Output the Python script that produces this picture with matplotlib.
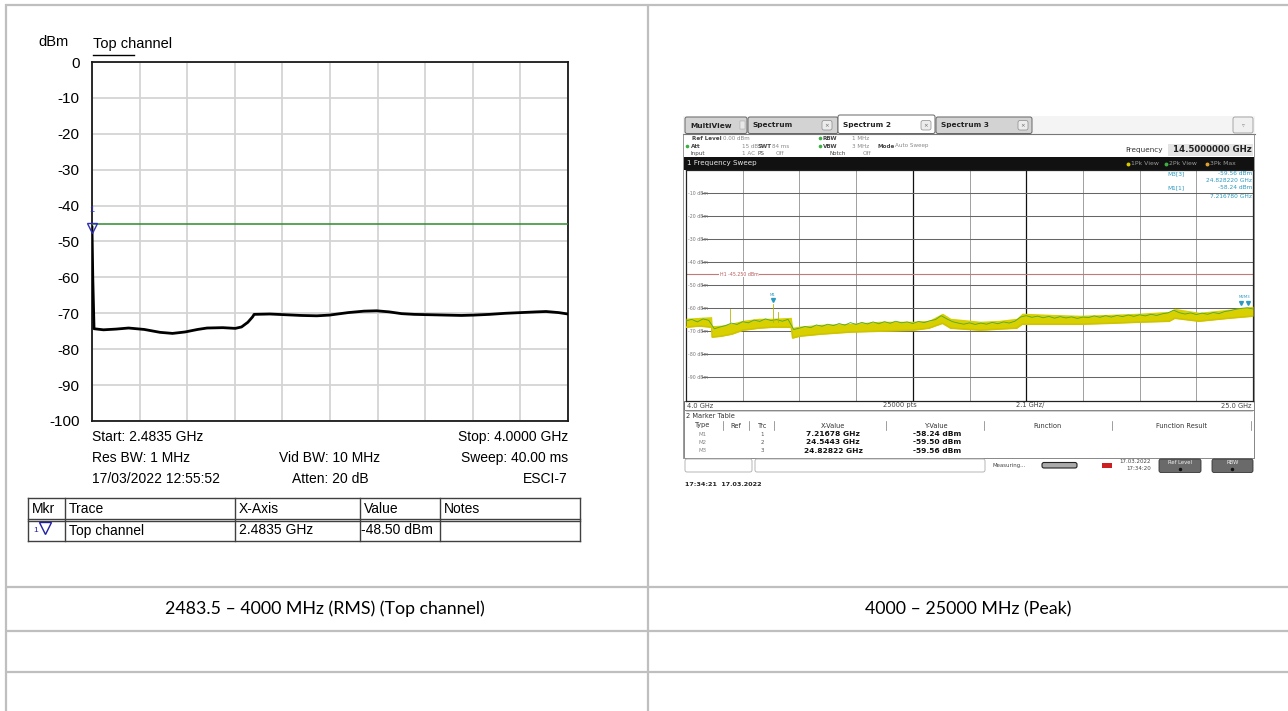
import numpy as np
import matplotlib
matplotlib.use("Agg")
import matplotlib.pyplot as plt
from matplotlib.patches import Rectangle, FancyBboxPatch

# ---------------- data ----------------
left_yticks = [0, -10, -20, -30, -40, -50, -60, -70, -80, -90, -100]
left_trace_ghz = [2.4835, 2.4860, 2.4900, 2.52, 2.56, 2.60, 2.65, 2.70, 2.74, 2.78, 2.82,
                  2.85, 2.90, 2.94, 2.96, 2.98, 2.995, 3.00, 3.05, 3.10, 3.15, 3.20, 3.24,
                  3.30, 3.35, 3.39, 3.43, 3.47, 3.51, 3.56, 3.61, 3.66, 3.70, 3.75, 3.80,
                  3.85, 3.90, 3.93, 3.97, 4.00]
left_trace_dbm = [-46.0, -60.0, -74.3, -74.6, -74.4, -74.1, -74.5, -75.3, -75.6, -75.2, -74.5,
                  -74.1, -74.0, -74.2, -73.8, -72.5, -71.0, -70.3, -70.2, -70.4, -70.6, -70.7, -70.5,
                  -69.8, -69.4, -69.3, -69.6, -70.1, -70.3, -70.4, -70.5, -70.6, -70.5, -70.3, -70.0,
                  -69.8, -69.6, -69.5, -69.8, -70.2]
left_display_line = -45.0
left_marker = (2.4835, -48.5)
left_info = [("Start: 2.4835 GHz", "", "Stop: 4.0000 GHz"),
             ("Res BW: 1 MHz", "Vid BW: 10 MHz", "Sweep: 40.00 ms"),
             ("17/03/2022 12:55:52", "Atten: 20 dB", "ESCI-7")]
mkr_header = ["Mkr", "Trace", "X-Axis", "Value", "Notes"]
mkr_row = ["1", "Top channel", "2.4835 GHz", "-48.50 dBm", ""]
captions = ["2483.5 \u2013 4000 MHz (RMS) (Top channel)", "4000 \u2013 25000 MHz (Peak)"]

# right screenshot (R&S spectrum 4 - 25 GHz)
spec_ghz = np.linspace(4.0, 25.0, 101)
spec_green = [-65.5, -64.8, -65.9, -64.6, -65.2, -68.9, -68.1, -67.5, -66.4, -67.0,
              -65.8, -66.3, -65.1, -65.7, -64.6, -65.3, -64.9, -65.6, -64.8, -69.2,
              -68.6, -67.9, -68.4, -67.2, -67.8, -66.9, -67.5, -66.6, -67.3, -66.2,
              -67.0, -66.1, -66.8, -65.9, -66.7, -65.8, -66.5, -65.6, -66.3, -65.9,
              -66.6, -65.7, -66.2, -65.4, -64.9, -63.2, -64.6, -65.8, -66.4, -66.9,
              -66.3, -67.0, -66.4, -66.9, -66.1, -66.7, -65.9, -66.4, -65.6, -63.8,
              -63.2, -63.9, -63.4, -64.1, -63.5, -64.3, -63.6, -64.2, -63.7, -64.4,
              -63.8, -64.0, -63.3, -63.9, -63.2, -63.8, -63.1, -63.6, -62.9, -63.5,
              -62.8, -63.3, -62.6, -63.1, -62.4, -62.0, -60.8, -61.9, -62.5, -62.0,
              -62.7, -62.1, -62.6, -61.8, -62.3, -61.4, -61.0, -60.4, -60.0, -59.8, -60.3]
band_ghz = [4.0, 4.5, 4.95, 4.97, 5.3, 5.7, 6.1, 6.7, 7.2, 7.9, 7.95, 8.2, 9.0, 10.1, 11.2,
            12.4, 13.0, 13.5, 13.8, 14.9, 15.6, 16.25, 16.45, 17.5, 18.6, 19.7, 20.8, 21.9,
            22.1, 23.0, 24.1, 25.0]
band_hi = [-64.3, -63.9, -63.6, -67.5, -67.3, -66.4, -65.2, -64.3, -64.3, -63.9, -68.2, -67.7,
           -66.9, -66.5, -65.6, -65.6, -65.2, -62.1, -64.3, -65.6, -65.2, -64.3, -62.1, -62.6,
           -63.0, -62.6, -62.1, -61.3, -60.0, -61.7, -60.4, -59.1]
band_lo = [-68.2, -67.7, -68.2, -72.5, -72.1, -71.2, -69.5, -68.6, -68.2, -68.2, -72.9, -72.1,
           -71.2, -70.3, -69.9, -69.5, -68.6, -66.5, -68.6, -69.5, -69.0, -68.6, -66.9, -66.9,
           -66.9, -66.5, -66.0, -65.6, -64.3, -65.6, -64.3, -63.4]
spike_ghz = [5.63, 7.22, 7.40]
spike_dbm = [-60.4, -58.24, -61.5]
spec_markers = [("M1", 7.21678, -58.24), ("M2", 24.5443, -59.50), ("M3", 24.82822, -59.56)]
spec_hline = -45.25
spec_ylabels = ["-10 dBm", "-20 dBm", "-30 dBm", "-40 dBm", "-50 dBm", "-60 dBm",
                "-70 dBm", "-80 dBm", "-90 dBm"]
spec_table_rows = [("M1", "1", "7.21678 GHz", "-58.24 dBm"),
                   ("M2", "2", "24.5443 GHz", "-59.50 dBm"),
                   ("M3", "3", "24.82822 GHz", "-59.56 dBm")]

# ---------------- figure ----------------
W, H = 1288, 711
fig = plt.figure(figsize=(W / 100, H / 100), dpi=100)
bg = fig.add_axes([0, 0, 1, 1], zorder=0)
bg.set_xlim(0, W); bg.set_ylim(H, 0); bg.axis("off")
ov = fig.add_axes([0, 0, 1, 1], zorder=20)
ov.set_xlim(0, W); ov.set_ylim(H, 0); ov.axis("off"); ov.patch.set_alpha(0)


def pax(x0, y0, x1, y1, z=5):
    return fig.add_axes([x0 / W, 1 - y1 / H, (x1 - x0) / W, (y1 - y0) / H], zorder=z)


def rect(ax, x0, y0, x1, y1, fc, ec="none", lw=0.6, z=1, rounded=False):
    if rounded:
        p = FancyBboxPatch((x0, y0), x1 - x0, y1 - y0, boxstyle="round,pad=0,rounding_size=2",
                           facecolor=fc, edgecolor=ec, lw=lw, zorder=z)
    else:
        p = Rectangle((x0, y0), x1 - x0, y1 - y0, facecolor=fc, edgecolor=ec, lw=lw, zorder=z)
    ax.add_patch(p)


ARIAL = "Liberation Sans"

# page table lines
tc = "#bfbfbf"
for y in [4.5, 587, 631, 672]:
    bg.plot([5.5, W], [y, y], color=tc, lw=1.6, solid_capstyle="butt")
for x in [6.5, 648.5]:
    bg.plot([x, x], [4, H], color=tc, lw=1.6, solid_capstyle="butt")

# captions
for cx, txt in zip([325, 968], captions):
    bg.text(cx, 609, txt, ha="center", va="center", fontsize=12.8, family="Lato", color="#000")

# ---------------- left chart ----------------
ax = pax(92, 62, 568, 421)
ax.set_xlim(2.4835, 4.0)
ax.set_ylim(-100, 0)
ax.set_yticks(left_yticks)
ax.set_yticklabels([str(v) for v in left_yticks], family=ARIAL, fontsize=11)
ax.tick_params(axis="y", length=0, pad=9)
ax.set_xticks(np.linspace(2.4835, 4.0, 11))
ax.tick_params(axis="x", length=0, labelbottom=False)
ax.grid(True, color="#d4d4d4", lw=1.3)
ax.set_axisbelow(True)
for s in ax.spines.values():
    s.set_color("#1a1a1a"); s.set_linewidth(1.3)
ax.axhline(left_display_line, color="#2e8b2e", lw=1.1, zorder=3)
ax.plot(left_trace_ghz, left_trace_dbm, color="#000", lw=2.0, zorder=4)
ax.plot([left_marker[0]], [left_marker[1] + 2.2], marker="v", ms=7, mfc="none",
        mec="#3030b0", mew=1.0, clip_on=False, zorder=6)
ax.text(left_marker[0], left_marker[1] + 7.5, "1", color="#3030b0", fontsize=6.5,
        ha="center", va="center", family=ARIAL, clip_on=False)

bg.text(38, 42, "dBm", fontsize=10.5, family=ARIAL, va="center")
bg.text(93, 44, "Top channel", fontsize=10.5, family=ARIAL, va="center")
bg.plot([93, 134], [54.5, 54.5], color="#000", lw=1.0)

for i, (l, c, r) in enumerate(left_info):
    y = 437 + 21 * i
    bg.text(92, y, l, fontsize=10, family=ARIAL, ha="left", va="center")
    if c:
        bg.text(330, y, c, fontsize=10, family=ARIAL, ha="center", va="center")
    bg.text(568, y, r, fontsize=10, family=ARIAL, ha="right", va="center")

# marker table
cols = [28, 65, 235, 360, 440, 580]
ty0, ty1, ty2 = 498, 519.5, 541
lc = "#404040"
for y in [ty0, ty1 - 1, ty1 + 1, ty2]:
    bg.plot([cols[0], cols[-1]], [y, y], color=lc, lw=1.0)
for x in cols:
    bg.plot([x, x], [ty0, ty2], color=lc, lw=1.0)
for i, h in enumerate(mkr_header):
    bg.text(cols[i] + 4, (ty0 + ty1) / 2, h, fontsize=10, family=ARIAL, va="center")
bg.text(cols[0] + 5, 531, mkr_row[0], fontsize=6, family=ARIAL, va="center", color="#2020a0")
bg.plot([cols[0] + 17], [528], marker="v", ms=8, mfc="none", mec="#2020a0", mew=1.0)
for i in range(1, 4):
    bg.text(cols[i] + 4 if i < 3 else cols[i] + 1, 530.5, mkr_row[i], fontsize=10,
            family=ARIAL, va="center")

# ---------------- right screenshot ----------------
DJ = "DejaVu Sans"
# tabs
rect(bg, 683, 116, 1255, 133.5, "#f4f4f4", z=1)
tabs = [(685, 747, "MultiView", False), (748, 838, "Spectrum", False),
        (838, 935, "Spectrum 2", True), (936, 1032, "Spectrum 3", False)]
for x0, x1, name, active in tabs:
    rect(bg, x0, 117 if not active else 115, x1, 133.5, "#ffffff" if active else "#d3d3d3",
         ec="#666", lw=0.7, z=2, rounded=True)
    bg.text(x0 + 5, 125.5, name, fontsize=5.3, weight="bold", family=DJ, va="center",
            color="#222", zorder=3)
for cx in [827, 926, 1023]:
    rect(bg, cx - 5, 120.5, cx + 5, 130, "#ececec", ec="#8a8a8a", lw=0.5, z=3, rounded=True)
    bg.text(cx, 125.3, "\u00d7", fontsize=4, ha="center", va="center", color="#666", zorder=4)
rect(bg, 740, 121, 745, 129, "#e8e8e8", ec="#999", lw=0.3, z=3)
rect(bg, 1233, 117, 1253, 133, "#f0f0f0", ec="#9a9a9a", lw=0.6, z=3, rounded=True)
bg.text(1243, 125, "\u25bf", fontsize=4, ha="center", va="center", color="#888", zorder=4)
bg.plot([683, 1255], [133.5, 133.5], color="#777", lw=0.8, zorder=3)

# info rows
def itxt(x, y, s, bold=False, c="#333", fs=4.1):
    bg.text(x, y, s, fontsize=fs, family=DJ, weight="bold" if bold else "normal",
            va="center", color=c, zorder=4)

itxt(692, 138, "Ref Level", bold=True, c="#444")
itxt(723, 138, "0.00 dBm", c="#888")
itxt(691, 146, "Att", bold=True, c="#444")
itxt(742, 146, "15 dB", c="#888")
itxt(758, 146, "SWT", bold=True, c="#444")
itxt(772, 146, "84 ms", c="#888")
itxt(691, 153.5, "Input", c="#444")
itxt(742, 153.5, "1 AC", c="#888")
itxt(758, 153.5, "PS", c="#444")
itxt(776, 153.5, "Off", c="#888")
itxt(823, 138, "RBW", bold=True, c="#444")
itxt(852, 138, "1 MHz", c="#888")
itxt(823, 146, "VBW", bold=True, c="#444")
itxt(852, 146, "3 MHz", c="#888")
itxt(878, 146, "Mode", bold=True, c="#444")
itxt(895, 146, "Auto Sweep", c="#888")
itxt(830, 153.5, "Notch", c="#444")
itxt(863, 153.5, "Off", c="#888")
for x, y in [(687, 146), (820, 138), (820, 146)]:
    bg.plot([x], [y], "o", ms=1.6, color="#3cb043", zorder=4)
bg.text(1163, 150, "Frequency", fontsize=5.2, family=DJ, ha="right", va="center", color="#333")
rect(bg, 1168, 143.5, 1253, 156, "#e4e4e4", z=2)
bg.text(1252, 150, "14.5000000 GHz", fontsize=6.2, family=DJ, weight="bold", ha="right",
        va="center", color="#222", zorder=3)

# black title bar
rect(bg, 684, 157, 1254, 170, "#111111", z=2)
bg.text(687, 163.5, "1 Frequency Sweep", fontsize=5.1, family=DJ, color="#e8e8e8",
        va="center", zorder=3)
leg = [(1128, "#d8c800", "1Pk View"), (1166, "#3cb043", "2Pk View"), (1207, "#e0a030", "3Pk Max")]
for x, c, t in leg:
    bg.plot([x], [163.5], "o", ms=1.8, color=c, zorder=3)
    bg.text(x + 3, 163.5, t, fontsize=4.4, family=DJ, color="#9a9a9a", va="center", zorder=3)

# spectrum plot axes
sp = pax(686, 170, 1253, 400.5, z=5)
sp.set_xlim(4.0, 25.0); sp.set_ylim(-100, 0)
sp.set_xticks([]); sp.set_yticks([])
for s in sp.spines.values():
    s.set_color("#222"); s.set_linewidth(0.9)
for k in range(1, 10):
    xg = 4.0 + 2.1 * k
    dark = k in (4, 6)
    sp.axvline(xg, color="#111" if dark else "#a0a0a0", lw=0.9 if dark else 0.7, zorder=1)
for i, lab in enumerate(spec_ylabels):
    yv = -10 * (i + 1)
    sp.plot([4.6, 25.0], [yv, yv], color="#666", lw=0.75, zorder=1)
    sp.text(4.08, yv, lab, fontsize=3.4, family=DJ, color="#777", va="center", zorder=2)
sp.axhline(spec_hline, color="#c07a7a", lw=0.8, zorder=2)
sp.text(5.97, spec_hline, "H1 -45.250 dBm", fontsize=3.4, family=DJ, color="#b85a5a",
        ha="center", va="center", zorder=3,
        bbox=dict(facecolor="white", edgecolor="none", pad=0.3))
sp.fill_between(band_ghz, band_lo, band_hi, color="#d8d000", lw=0, zorder=4)
sp.plot(band_ghz, band_lo, color="#cfc400", lw=1.2, zorder=4)
sp.plot(spec_ghz, spec_green, color="#4aa83a", lw=0.6, zorder=5)
for f, d in zip(spike_ghz, spike_dbm):
    sp.plot([f, f], [d, -66.0], color="#b8b800", lw=0.6, zorder=5)
mc = "#2c9ac0"
for name, f, d in spec_markers:
    sp.plot([f], [d + 2.0], marker="v", ms=2.8, color=mc, zorder=6)
sp.text(7.21678, -54.2, "M1", fontsize=2.8, color=mc, ha="center", va="center", zorder=6)
sp.text(24.68, -55.2, "M2M3", fontsize=2.8, color=mc, ha="center", va="center", zorder=6)
# marker info in top right
ov.text(1167, 173.5, "M3[3]", fontsize=4.2, family=DJ, color=mc, va="center")
ov.text(1252, 173.5, "-59.56 dBm", fontsize=4.2, family=DJ, color=mc, va="center", ha="right")
ov.text(1252, 180.5, "24.828220 GHz", fontsize=4.2, family=DJ, color=mc, va="center", ha="right")
ov.text(1167, 187.5, "M1[1]", fontsize=4.2, family=DJ, color=mc, va="center")
ov.text(1252, 187.5, "-58.24 dBm", fontsize=4.2, family=DJ, color=mc, va="center", ha="right")
ov.text(1252, 196.5, "7.216780 GHz", fontsize=4.2, family=DJ, color=mc, va="center", ha="right")

# footer of plot
rect(bg, 684, 400.5, 1254, 410, "#ffffff", ec="#555", lw=0.6, z=2)
for x, t, ha in [(687, "4.0 GHz", "left"), (900, "25000 pts", "center"),
                 (1030, "2.1 GHz/", "center"), (1252, "25.0 GHz", "right")]:
    bg.text(x, 405.5, t, fontsize=4.8, family=DJ, ha=ha, va="center", color="#444", zorder=3)

# marker table
rect(bg, 684, 410, 1254, 457.5, "#ffffff", ec="#888", lw=0.7, z=2)
bg.plot([686, 1252], [411, 411], color="#bbb", lw=0.5, zorder=3)
bg.text(686, 416, "2 Marker Table", fontsize=4.8, family=DJ, va="center", color="#333", zorder=3)
hdr = [(703, "Type"), (736, "Ref"), (763, "Trc"), (833, "X-Value"), (937, "Y-Value"),
       (1048, "Function"), (1182, "Function Result")]
for x, t in hdr:
    bg.text(x, 425.5, t, fontsize=4.8, family=DJ, ha="center", va="center", color="#333", zorder=3)
for x in [723, 749, 774, 886, 984, 1112, 1251]:
    bg.plot([x, x], [421, 430], color="#777", lw=0.5, zorder=3)
for j, (m, trc, xv, yv) in enumerate(spec_table_rows):
    y = 434 + 8.5 * j
    bg.text(703, y, m, fontsize=4.0, family=DJ, ha="center", va="center", color="#888", zorder=3)
    bg.text(762, y, trc, fontsize=4.0, family=DJ, ha="center", va="center", color="#555", zorder=3)
    bg.text(833, y, xv, fontsize=5.4, family=DJ, weight="bold", ha="center", va="center",
            color="#111", zorder=3)
    bg.text(937, y, yv, fontsize=5.4, family=DJ, weight="bold", ha="center", va="center",
            color="#111", zorder=3)

# status bar
rect(bg, 685, 459, 752, 472, "#ffffff", ec="#aaa", lw=0.6, z=2, rounded=True)
rect(bg, 755, 459, 985, 472, "#ffffff", ec="#aaa", lw=0.6, z=2, rounded=True)
bg.text(993, 465.5, "Measuring...", fontsize=3.9, family=DJ, va="center", color="#444", zorder=3)
rect(bg, 1042, 462.5, 1077, 468, "#aaaaaa", ec="#222", lw=0.8, z=3, rounded=True)
rect(bg, 1102, 463, 1112, 468, "#cc2020", z=3)
bg.text(1151, 461.5, "17.03.2022", fontsize=4.0, family=DJ, ha="right", va="center",
        color="#444", zorder=3)
bg.text(1151, 468, "17:34:20", fontsize=4.0, family=DJ, ha="right", va="center",
        color="#444", zorder=3)
for x0, x1, t in [(1159, 1201, "Ref Level"), (1212, 1253, "RBW")]:
    rect(bg, x0, 459, x1, 472.5, "#6a6a6a", ec="#333", lw=0.6, z=2, rounded=True)
    bg.text((x0 + x1) / 2, 462.5, t, fontsize=3.8, family=DJ, ha="center", va="center",
            color="#f0f0f0", zorder=3)
    bg.plot([(x0 + x1) / 2], [468.5], "o", ms=1.5, color="#111", zorder=3)

bg.text(685, 484.5, "17:34:21  17.03.2022", fontsize=4.6, family=DJ, weight="bold",
        va="center", color="#222")

# screenshot frame edges
bg.plot([683.5, 683.5], [133.5, 457.5], color="#888", lw=0.6, zorder=3)
bg.plot([1254.5, 1254.5], [133.5, 457.5], color="#888", lw=0.6, zorder=3)

fig.savefig("out.png", dpi=100)
